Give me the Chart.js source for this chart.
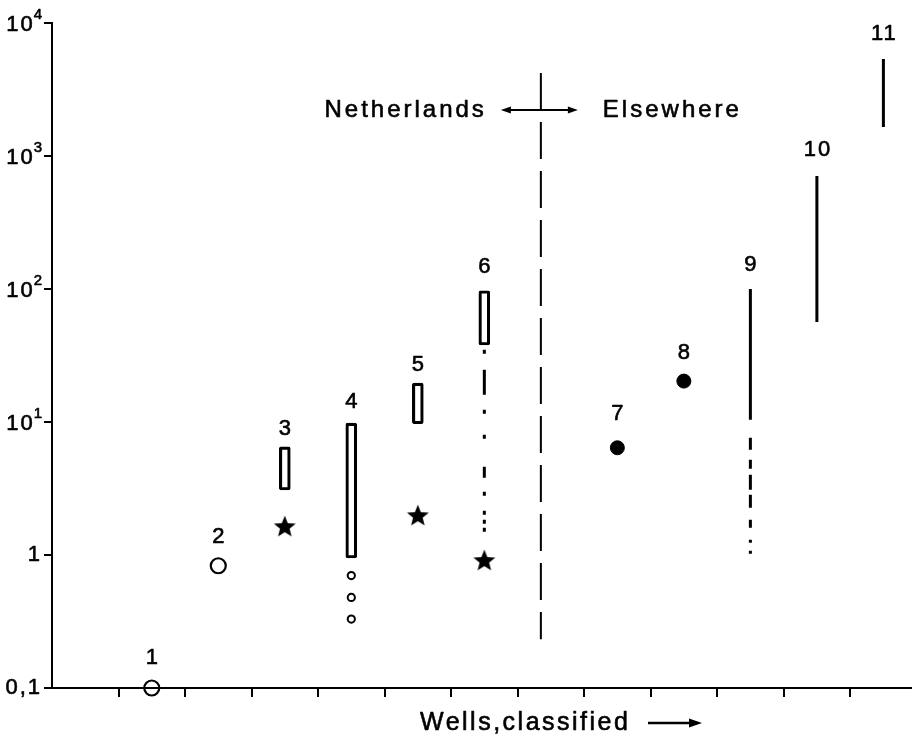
<!DOCTYPE html>
<html>
<head>
<meta charset="utf-8">
<script src="https://cdn.jsdelivr.net/npm/chart.js@4.4.1/dist/chart.umd.min.js"></script>
<style>
  html, body { margin: 0; padding: 0; background: #fff; }
  #wrap { width: 912px; height: 742px; }
</style>
</head>
<body>
<div id="wrap"><canvas id="c" width="912" height="742"></canvas></div>
<script>
// ---- data ----
const WELL_LABELS = ['1', '2', '3', '4', '5', '6', '7', '8', '9', '10', '11'];
const WELL_X      = [1, 2, 3, 4, 5, 6, 8, 9, 10, 11, 12];
const WELL_TOP    = [0.1, 0.83, 6.5, 9.8, 19.6, 97, 6.4, 20.3, 100, 708, 5360];

const OPEN_X  = [1, 2];
const OPEN_Y  = [0.1, 0.83];
const SMALL_X = [4, 4, 4];
const SMALL_Y = [0.70, 0.48, 0.33];
const STAR_X  = [3, 5, 6];
const STAR_Y  = [1.62, 1.96, 0.90];
const DOT_X   = [8, 9];
const DOT_Y   = [6.4, 20.3];

const BOX_X    = [3, 4, 5, 6];
const BOX_LOW  = [3.08, 0.95, 9.7, 37.9];
const BOX_HIGH = [6.5, 9.8, 19.6, 97];

const RANGE_X    = [10, 11, 12];
const RANGE_LOW  = [10.4, 56.5, 1650];
const RANGE_HIGH = [100, 708, 5360];

const TAIL6_X = 6;
const TAIL6_Y = [35, 0.9];
const TAIL9_X = 10;
const TAIL9_Y = [7.6, 1.0];

const DIVIDER_X = 6.85;
const DIVIDER_Y = [4210, 0.233];

const X_TICKS = [0.5, 1.5, 2.5, 3.5, 4.5, 5.5, 6.5, 7.5, 8.5, 9.5, 10.5, 11.5];
const Y_TICKS = [0.1, 1, 10, 100, 1000, 10000];
const Y_TICK_BASE = ['0,1', '1', '10', '10', '10', '10'];
const Y_TICK_EXP  = ['', '', '1', '2', '3', '4'];

// ---- styling helpers ----
const FONT = '"Liberation Sans", Arial, Helvetica, sans-serif';
const INK = '#000';

function makeStar(size, ratio) {
  const c = document.createElement('canvas');
  c.width = c.height = size;
  const g = c.getContext('2d');
  const R = size / 2 - 0.5, r = R * ratio, cx = size / 2, cy = size / 2;
  g.beginPath();
  for (let k = 0; k < 10; k++) {
    const a = -Math.PI / 2 + k * Math.PI / 5;
    const rr = k % 2 ? r : R;
    g.lineTo(cx + rr * Math.cos(a), cy + rr * Math.sin(a));
  }
  g.closePath();
  g.fillStyle = INK;
  g.fill();
  return c;
}
const starImg = makeStar(24, 0.44);

const pts = (xs, ys) => xs.map((x, i) => ({ x, y: ys[i] }));

const datasets = [];

// open rectangles (value ranges)
BOX_X.forEach((x, i) => {
  datasets.push({
    type: 'bar',
    data: [{ x, y: [BOX_LOW[i], BOX_HIGH[i]] }],
    barThickness: 11,
    borderWidth: 2.5,
    borderColor: INK,
    backgroundColor: 'rgba(0,0,0,0)',
    borderSkipped: false,
    borderRadius: 2,
    grouped: false,
    clip: false
  });
});

// solid range lines
RANGE_X.forEach((x, i) => {
  datasets.push({
    type: 'line',
    data: [{ x, y: RANGE_HIGH[i] }, { x, y: RANGE_LOW[i] }],
    borderColor: INK,
    borderWidth: 3,
    borderCapStyle: 'butt',
    pointRadius: 0,
    clip: false
  });
});

// dash-dot trail below box 6
datasets.push({
  type: 'line',
  data: [{ x: TAIL6_X, y: TAIL6_Y[0] }, { x: TAIL6_X, y: TAIL6_Y[1] }],
  borderColor: INK,
  borderWidth: 3,
  borderCapStyle: 'butt',
  borderDash: [4, 16, 25, 15, 4, 21, 4, 28, 11, 14, 4, 15, 4, 5, 4, 4, 4, 40],
  pointRadius: 0,
  clip: false
});

// dashed trail below line 9
datasets.push({
  type: 'line',
  data: [{ x: TAIL9_X, y: TAIL9_Y[0] }, { x: TAIL9_X, y: TAIL9_Y[1] }],
  borderColor: INK,
  borderWidth: 3,
  borderCapStyle: 'butt',
  borderDash: [12, 10, 9, 6, 15, 5, 13, 12, 8, 12, 3, 8, 3, 50],
  pointRadius: 0,
  clip: false
});

// divider Netherlands / Elsewhere
datasets.push({
  type: 'line',
  data: [{ x: DIVIDER_X, y: DIVIDER_Y[0] }, { x: DIVIDER_X, y: DIVIDER_Y[1] }],
  borderColor: INK,
  borderWidth: 2,
  borderCapStyle: 'butt',
  borderDash: [37, 12],
  pointRadius: 0,
  clip: false
});

// open circles
datasets.push({
  type: 'scatter',
  data: pts(OPEN_X, OPEN_Y),
  pointStyle: 'circle',
  pointRadius: 7.5,
  pointBorderWidth: 2.2,
  pointBorderColor: INK,
  pointBackgroundColor: 'rgba(0,0,0,0)',
  clip: false
});

// small open circles
datasets.push({
  type: 'scatter',
  data: pts(SMALL_X, SMALL_Y),
  pointStyle: 'circle',
  pointRadius: 3.6,
  pointBorderWidth: 2,
  pointBorderColor: INK,
  pointBackgroundColor: 'rgba(0,0,0,0)',
  clip: false
});

// filled circles
datasets.push({
  type: 'scatter',
  data: pts(DOT_X, DOT_Y),
  pointStyle: 'circle',
  pointRadius: 7,
  pointBorderWidth: 1,
  pointBorderColor: INK,
  pointBackgroundColor: INK,
  clip: false
});

// stars
datasets.push({
  type: 'scatter',
  data: pts(STAR_X, STAR_Y),
  pointStyle: starImg,
  pointRadius: 10,
  clip: false
});

// label offsets above each well's top mark (px)
const LABEL_GAP = [30, 29, 18, 21, 18, 24, 34, 28, 24, 26, 25];

function arrowHead(ctx, x, y, dir, len, half) {
  ctx.beginPath();
  ctx.moveTo(x, y);
  ctx.lineTo(x - dir * len, y - half);
  ctx.lineTo(x - dir * len, y + half);
  ctx.closePath();
  ctx.fill();
}

// filled text with a thin outline so the strokes read a little heavier
function inkText(ctx, t, x, y) {
  ctx.fillText(t, x, y);
  ctx.strokeText(t, x, y);
}

const textPlugin = {
  id: 'wellText',
  afterDatasetsDraw(chart) {
    const { ctx, scales: { x, y } } = chart;
    ctx.save();
    ctx.fillStyle = INK;
    ctx.strokeStyle = INK;
    ctx.lineWidth = 0.6;
    ctx.lineJoin = 'round';

    // y-axis tick labels with raised exponents
    ctx.textBaseline = 'middle';
    const right = chart.chartArea.left - 8;
    Y_TICKS.forEach((v, i) => {
      const py = y.getPixelForValue(v);
      ctx.letterSpacing = '2px';
      if (Y_TICK_EXP[i]) {
        ctx.font = '15px ' + FONT;
        ctx.textAlign = 'right';
        inkText(ctx, Y_TICK_EXP[i], right, py - 8);
        const ew = ctx.measureText(Y_TICK_EXP[i]).width;
        ctx.font = '22px ' + FONT;
        inkText(ctx, Y_TICK_BASE[i], right - ew + 1, py + 2);
      } else {
        ctx.font = '22px ' + FONT;
        ctx.textAlign = 'right';
        inkText(ctx, Y_TICK_BASE[i], right - 2, py);
      }
    });

    // well numbers
    ctx.font = '22px ' + FONT;
    ctx.letterSpacing = '2px';
    ctx.textAlign = 'center';
    ctx.textBaseline = 'middle';
    WELL_LABELS.forEach((t, i) => {
      inkText(ctx, t, x.getPixelForValue(WELL_X[i]) + 1, y.getPixelForValue(WELL_TOP[i]) - LABEL_GAP[i]);
    });

    // region annotation
    const dx = x.getPixelForValue(DIVIDER_X);
    const ay = 110;
    ctx.font = '24px ' + FONT;
    ctx.letterSpacing = '3px';
    ctx.textAlign = 'right';
    inkText(ctx, 'Netherlands', dx - 54, ay);
    ctx.textAlign = 'left';
    inkText(ctx, 'Elsewhere', dx + 62, ay);
    ctx.lineWidth = 2;
    ctx.beginPath();
    ctx.moveTo(dx - 34, ay);
    ctx.lineTo(dx + 31, ay);
    ctx.stroke();
    arrowHead(ctx, dx - 40, ay, -1, 10, 3.5);
    arrowHead(ctx, dx + 37, ay, 1, 10, 3.5);

    // axis caption
    ctx.lineWidth = 0.6;
    ctx.font = '25px ' + FONT;
    ctx.letterSpacing = '2.5px';
    ctx.textAlign = 'left';
    inkText(ctx, 'Wells,classified', 420, 723);
    ctx.lineWidth = 2.5;
    ctx.beginPath();
    ctx.moveTo(648, 723);
    ctx.lineTo(690, 723);
    ctx.stroke();
    arrowHead(ctx, 702, 723, 1, 13, 4.5);
    ctx.restore();
  }
};

new Chart(document.getElementById('c'), {
  type: 'scatter',
  data: { datasets },
  options: {
    responsive: false,
    devicePixelRatio: 1,
    animation: false,
    events: [],
    layout: { autoPadding: false, padding: { top: 23, right: 0, bottom: 0, left: 0 } },
    plugins: { legend: { display: false }, tooltip: { enabled: false } },
    scales: {
      x: {
        type: 'linear',
        min: -0.5,
        max: 12.43,
        offset: false,
        afterBuildTicks: s => { s.ticks = X_TICKS.map(v => ({ value: v })); },
        afterFit: s => { s.height = 54; },
        ticks: { display: false },
        grid: { offset: false, drawOnChartArea: false, drawTicks: true, tickLength: 9, color: INK, lineWidth: 2 },
        border: { display: true, color: INK, width: 2 }
      },
      y: {
        type: 'logarithmic',
        min: 0.1,
        max: 10000,
        afterBuildTicks: s => { s.ticks = Y_TICKS.map(v => ({ value: v })); },
        afterFit: s => { s.width = 52; },
        ticks: { display: false },
        grid: { offset: false, drawOnChartArea: false, drawTicks: true, tickLength: 8, color: INK, lineWidth: 2 },
        border: { display: true, color: INK, width: 2 }
      }
    }
  },
  plugins: [textPlugin]
});
</script>
</body>
</html>
